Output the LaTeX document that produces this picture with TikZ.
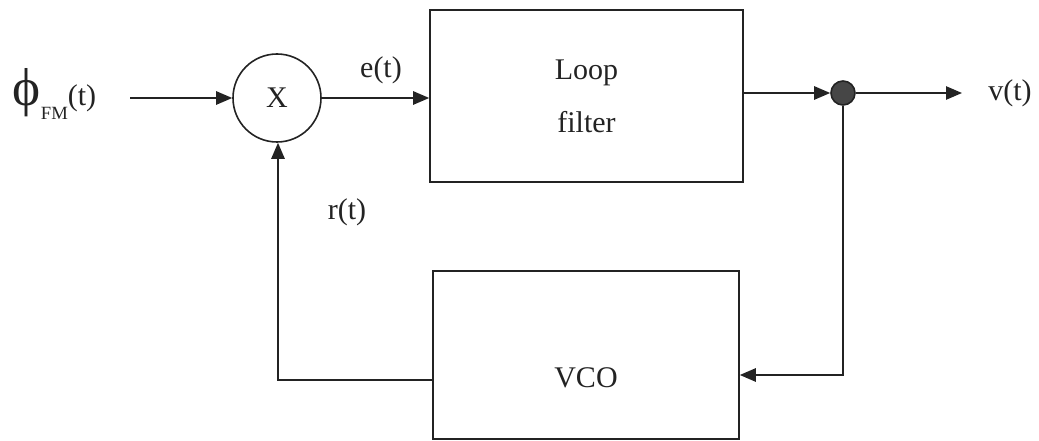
\documentclass[tikz,border=0pt]{standalone}
\usepackage{fontspec}
\setmainfont{Liberation Serif}
\usepackage{tikz}
\usetikzlibrary{arrows.meta, positioning, calc}
\definecolor{inkgrey}{RGB}{35,35,35}
\definecolor{dotgrey}{RGB}{70,70,70}

\begin{document}
\begin{tikzpicture}[x=0.75pt, y=-0.75pt, line width=1.2pt, color=inkgrey,
    every node/.style={font=\fontsize{22.5}{27}\selectfont},
    block/.style={draw, rectangle, inner sep=0pt},
    mixer/.style={draw, circle, minimum size=66pt, inner sep=0pt},
    junction/.style={draw, fill=dotgrey, circle, minimum size=18pt, inner sep=0pt},
    sig/.style={-{Triangle[length=12pt, width=10pt]}}]
    \useasboundingbox (0,0) rectangle (1039,441);
    \node[mixer] (mul) at (277,98) {X};
    \node[block, minimum width=234.75pt, minimum height=129pt, align=center] (filt) at (586.5,96) {Loop\\[13pt]filter};
    \node[junction] (dot) at (843,93) {};
    \node[block, minimum width=229.5pt, minimum height=126pt,
        label={[yshift=-17pt]center:VCO}] (vco) at (586,355) {};
    \node[anchor=base west, inner sep=0pt] (phi) at (12,106)
        {{\fontsize{40}{40}\selectfont ϕ}\raisebox{-10pt}{\fontsize{14}{14}\selectfont FM}(t)};
    \node (et) at (381,70) {e(t)};
    \node (rt) at (347,212) {r(t)};
    \node (vt) at (1010,93) {v(t)};
    \coordinate (in) at (130,98);
    \coordinate (out) at (962,93);
    \coordinate (fb) at (843,375);
    \coordinate (rb) at (278,380);
    \draw[sig] (in) -- (mul);
    \draw[sig] (mul.east) -- (mul.east -| filt.west);
    \draw[sig] (filt.east |- dot) -- (dot);
    \draw[sig] (dot) -- (out);
    \draw[sig] (dot) -- (fb) -- (fb -| vco.east);
    \draw[sig] (rb -| vco.west) -- (rb) -- (rb |- mul.south);
\end{tikzpicture}
\end{document}
